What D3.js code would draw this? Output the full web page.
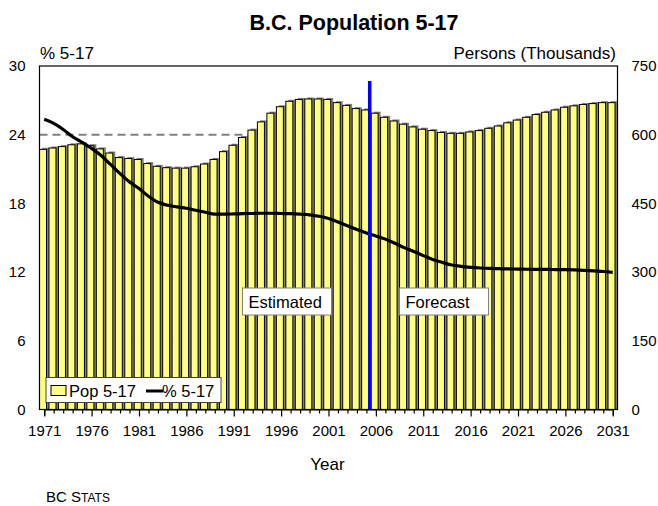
<!DOCTYPE html>
<html>
<head>
<meta charset="utf-8">
<script src="https://cdn.jsdelivr.net/npm/d3@7"></script>
<style>
  body { margin: 0; background: #fff; }
  svg { display: block; font-family: "Liberation Sans", Arial, sans-serif; }
</style>
</head>
<body>
<div id="chart"></div>
<script>

// years on the category axis
const years = [1971, 1972, 1973, 1974, 1975, 1976, 1977, 1978, 1979, 1980,
  1981, 1982, 1983, 1984, 1985, 1986, 1987, 1988, 1989, 1990,
  1991, 1992, 1993, 1994, 1995, 1996, 1997, 1998, 1999, 2000,
  2001, 2002, 2003, 2004, 2005, 2006, 2007, 2008, 2009, 2010,
  2011, 2012, 2013, 2014, 2015, 2016, 2017, 2018, 2019, 2020,
  2021, 2022, 2023, 2024, 2025, 2026, 2027, 2028, 2029, 2030, 2031] ;

// Pop 5-17, thousands (right axis)
const pop = [568, 571, 574, 578, 580, 576, 569, 560, 550, 548,
  546, 537, 531, 528, 527, 527, 530, 536, 546, 563,
  577, 594, 610, 628, 647, 661, 673, 677, 678, 678,
  677, 670, 664, 657, 654, 647, 638, 630, 623, 617,
  612, 609, 605, 603, 603, 606, 609, 614, 619, 626,
  632, 638, 644, 649, 654, 660, 663, 666, 668, 670, 670] ;

// % 5-17 of total population (left axis)
const pct = [25.34, 24.99, 24.46, 23.82, 23.33, 22.8, 22.19, 21.4, 20.6, 19.88,
  19.3, 18.63, 18.1, 17.84, 17.7, 17.58, 17.4, 17.23, 17.06, 17.06,
  17.08, 17.11, 17.12, 17.14, 17.14, 17.12, 17.1, 17.06, 17.0, 16.88,
  16.68, 16.38, 16.05, 15.72, 15.42, 15.15, 14.88, 14.52, 14.14, 13.8,
  13.44, 13.1, 12.85, 12.62, 12.5, 12.42, 12.36, 12.32, 12.3, 12.28,
  12.26, 12.25, 12.24, 12.23, 12.22, 12.21, 12.19, 12.15, 12.1, 12.05, 11.98] ;

const leftTicks = [0, 6, 12, 18, 24, 30] ;
const rightTicks = [0, 150, 300, 450, 600, 750] ;
const gridValues = [6, 12, 18, 24] ;
const labelYears = [1971, 1976, 1981, 1986, 1991, 1996, 2001, 2006, 2011, 2016, 2021, 2026, 2031] ;

// estimate / forecast split marker
const splitYear = 2005.35 ;
const splitTop = 28.7 ;

function drawChart() {

  let dimensions = {
    width: 658,
    height: 506,
    margin: {
      top: 66,
      right: 40.5,
      bottom: 96.5,
      left: 39.5,
    },
  }
  dimensions.boundedWidth = dimensions.width
    - dimensions.margin.left
    - dimensions.margin.right
  dimensions.boundedHeight = dimensions.height
    - dimensions.margin.top
    - dimensions.margin.bottom

  const svg = d3.select("#chart").append("svg")
      .attr("width", dimensions.width)
      .attr("height", dimensions.height)
  ;
  const bounds = svg.append("g")
      .attr("transform", `translate(${dimensions.margin.left}, ${dimensions.margin.top})`)
  ;

  const xBand = d3.scaleBand()
    .domain(years)
    .range([0, dimensions.boundedWidth])
  ;
  const bw = xBand.bandwidth() ;
  // continuous year scale through the band centres
  const xScale = d3.scaleLinear()
    .domain([years[0], years[years.length - 1]])
    .range([bw / 2, dimensions.boundedWidth - bw / 2])
  ;
  const yLeft = d3.scaleLinear()
    .domain([0, 30])
    .range([dimensions.boundedHeight, 0])
  ;
  const yRight = d3.scaleLinear()
    .domain([0, 750])
    .range([dimensions.boundedHeight, 0])
  ;

  // gridlines (dashed, behind the bars)
  bounds.append("g")
    .selectAll("line")
    .data(gridValues)
    .enter().append("line")
      .attr("x1", 0)
      .attr("x2", dimensions.boundedWidth)
      .attr("y1", d => yLeft(d))
      .attr("y2", d => yLeft(d))
      .attr("stroke", "#808080")
      .attr("stroke-width", 2)
      .attr("stroke-dasharray", "8,5")
  ;

  const barW = bw * 0.74 ;
  const shadow = 2.5 ;
  const barData = years.map((y, i) => ({year: y, value: pop[i]})) ;

  // bar shadows
  bounds.append("g")
    .selectAll("rect")
    .data(barData)
    .enter().append("rect")
      .attr("x", d => xScale(d.year) - barW / 2 - shadow / 2 + shadow)
      .attr("y", d => yRight(d.value) - 1.5)
      .attr("width", barW)
      .attr("height", d => dimensions.boundedHeight - yRight(d.value) + 1.5)
      .attr("fill", "#808080")
  ;
  // bars
  bounds.append("g")
    .selectAll("rect")
    .data(barData)
    .enter().append("rect")
      .attr("x", d => xScale(d.year) - barW / 2 - shadow / 2)
      .attr("y", d => yRight(d.value))
      .attr("width", barW)
      .attr("height", d => dimensions.boundedHeight - yRight(d.value))
      .attr("fill", "#ffff80")
      .attr("stroke", "#000")
      .attr("stroke-width", 1)
  ;

  // % line
  const lineGen = d3.line()
    .x((d, i) => xScale(years[i]))
    .y(d => yLeft(d))
    .curve(d3.curveMonotoneX)
  ;
  bounds.append("path")
    .datum(pct)
    .attr("d", lineGen)
    .attr("fill", "none")
    .attr("stroke", "#000")
    .attr("stroke-width", 3.2)
  ;

  // blue split line
  bounds.append("line")
    .attr("x1", xScale(splitYear))
    .attr("x2", xScale(splitYear))
    .attr("y1", yLeft(0))
    .attr("y2", yLeft(splitTop))
    .attr("stroke", "#0000ff")
    .attr("stroke-width", 3.5)
  ;

  // plot frame
  bounds.append("rect")
    .attr("width", dimensions.boundedWidth)
    .attr("height", dimensions.boundedHeight)
    .attr("fill", "none")
    .attr("stroke", "#000")
    .attr("stroke-width", 1.2)
  ;

  // x axis
  const xAxisGenerator = d3.axisBottom()
    .scale(xScale)
    .tickValues(years)
    .tickSize(6)
    .tickPadding(10)
    .tickFormat(d => labelYears.includes(d) ? d : "")
  ;
  const xAxis = bounds.append("g")
    .attr("transform", `translate(0, ${dimensions.boundedHeight})`)
    .call(xAxisGenerator)
  ;
  xAxis.select(".domain").attr("stroke-width", 1.2) ;
  xAxis.selectAll(".tick line")
    .attr("y2", d => labelYears.includes(d) ? 7 : 4)
    .attr("stroke-width", 1.2)
  ;
  xAxis.selectAll(".tick text")
    .attr("font-size", 15)
    .attr("font-family", "Liberation Sans, Arial, sans-serif")
    .attr("fill", "#000")
  ;

  // left axis
  const yAxisLeft = bounds.append("g")
    .call(d3.axisLeft(yLeft).tickValues(leftTicks).tickSize(0).tickPadding(14))
  ;
  yAxisLeft.select(".domain").remove() ;
  yAxisLeft.selectAll("text")
    .attr("font-size", 15)
    .attr("font-family", "Liberation Sans, Arial, sans-serif")
    .attr("fill", "#000")
  ;

  // right axis
  const yAxisRight = bounds.append("g")
    .attr("transform", `translate(${dimensions.boundedWidth}, 0)`)
    .call(d3.axisRight(yRight).tickValues(rightTicks).tickSize(0).tickPadding(14))
  ;
  yAxisRight.select(".domain").remove() ;
  yAxisRight.selectAll("text")
    .attr("font-size", 15)
    .attr("font-family", "Liberation Sans, Arial, sans-serif")
    .attr("fill", "#000")
  ;

  // annotation boxes
  const notes = [
    {text: "Estimated", x: 203, y: 222, w: 89},
    {text: "Forecast", x: 360, y: 222, w: 89},
  ] ;
  notes.forEach(n => {
    bounds.append("rect")
      .attr("x", n.x).attr("y", n.y)
      .attr("width", n.w).attr("height", 27)
      .attr("fill", "#fff")
      .attr("stroke", "#808080")
      .attr("stroke-width", 1)
    ;
    bounds.append("text")
      .attr("x", n.x + 6).attr("y", n.y + 19.5)
      .attr("font-size", 16.5)
      .text(n.text)
    ;
  }) ;

  // legend
  const legend = bounds.append("g")
    .attr("transform", "translate(6.5, 311.5)")
  ;
  legend.append("rect")
    .attr("width", 175).attr("height", 25)
    .attr("fill", "#fff")
    .attr("stroke", "#404040")
    .attr("stroke-width", 1)
  ;
  legend.append("rect")
    .attr("x", 5).attr("y", 8)
    .attr("width", 15).attr("height", 10)
    .attr("fill", "#ffff80")
    .attr("stroke", "#000")
  ;
  legend.append("text")
    .attr("x", 23).attr("y", 19)
    .attr("font-size", 16.5)
    .text("Pop 5-17")
  ;
  legend.append("line")
    .attr("x1", 100).attr("x2", 117)
    .attr("y1", 13.5).attr("y2", 13.5)
    .attr("stroke", "#000")
    .attr("stroke-width", 3)
  ;
  legend.append("text")
    .attr("x", 116).attr("y", 19)
    .attr("font-size", 16.5)
    .text("% 5-17")
  ;

  // titles
  svg.append("text")
    .attr("x", 354).attr("y", 29.5)
    .attr("text-anchor", "middle")
    .attr("font-size", 21.5)
    .attr("font-weight", "bold")
    .text("B.C. Population 5-17")
  ;
  svg.append("text")
    .attr("x", 40).attr("y", 58.5)
    .attr("font-size", 17)
    .text("% 5-17")
  ;
  svg.append("text")
    .attr("x", 616).attr("y", 58.5)
    .attr("text-anchor", "end")
    .attr("font-size", 17)
    .text("Persons (Thousands)")
  ;
  svg.append("text")
    .attr("x", 327.5).attr("y", 469.5)
    .attr("text-anchor", "middle")
    .attr("font-size", 17)
    .text("Year")
  ;
  // BC STATS in small caps
  const credit = svg.append("text")
    .attr("x", 46).attr("y", 502)
    .attr("font-size", 15)
  ;
  credit.append("tspan").text("BC S") ;
  credit.append("tspan").attr("font-size", 12).text("TATS") ;
}

drawChart() ;
</script>
</body>
</html>
